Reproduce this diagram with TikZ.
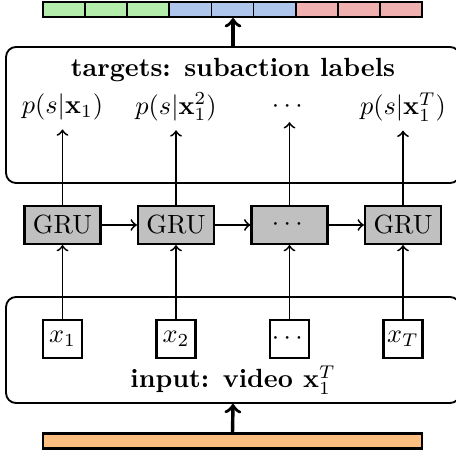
\documentclass[tikz,border=0pt]{standalone}
\usepackage{amsmath}
\definecolor{cgreen}{RGB}{180,236,172}
\definecolor{cblue}{RGB}{174,198,236}
\definecolor{cred}{RGB}{240,176,176}
\definecolor{corange}{RGB}{255,191,128}
\definecolor{cgray}{RGB}{192,192,192}
\begin{document}
\begin{tikzpicture}[x=0.38pt,y=-0.38pt,
  bigbox/.style={draw,line width=0.7pt,rounded corners=3.8pt,minimum width=172.5pt,inner sep=0pt},
  grubox/.style={draw,line width=0.8pt,fill=cgray,minimum width=28.9pt,minimum height=14.4pt,inner sep=0pt},
  xbox/.style={draw,line width=0.8pt,fill=white,minimum width=14.8pt,minimum height=14.4pt,inner sep=0pt},
  conn/.style={line width=0.7pt,->},
  thickarrow/.style={line width=1.3pt,->},
  barnode/.style={draw,line width=0.8pt,minimum width=144pt,minimum height=5.7pt,inner sep=0pt}
]
\useasboundingbox (0,0) rectangle (456,456);
% top bar
\foreach \i/\c in {0/cgreen,1/cgreen,2/cgreen,3/cblue,4/cblue,5/cblue,6/cred,7/cred,8/cred}{
  \draw[line width=0.7pt,fill=\c] ({43+\i*42.11},2) rectangle ({43+(\i+1)*42.11},17);
}
\node[barnode] (topbar) at (232.5,9.5) {};
% bottom bar
\node[barnode,fill=corange] (botbar) at (232.5,441) {};
% big boxes
\node[bigbox,minimum height=51.7pt] (tbox) at (233,115) {};
\node[bigbox,minimum height=40.3pt] (ibox) at (233,350) {};
\node[font=\bfseries] (ttitle) at (233,70) {targets: subaction labels};
\node (ititle) at (233,380) {\textbf{input: video $\mathbf{x}_1^T$}};
% labels
\node (p1) at (62.5,107) {$p(s|\mathbf{x}_1)$};
\node (p2) at (176,107) {$p(s|\mathbf{x}_1^2)$};
\node (p3) at (289.5,107) {$\cdots$};
\node (p4) at (403,107) {$p(s|\mathbf{x}_1^T)$};
% GRUs
\node[grubox] (g1) at (62.5,225) {GRU};
\node[grubox] (g2) at (176,225) {GRU};
\node[grubox] (g3) at (289.5,225) {$\cdots$};
\node[grubox] (g4) at (403,225) {GRU};
% inputs
\node[xbox] (x1) at (62.5,339) {$x_1$};
\node[xbox] (x2) at (176,339) {$x_2$};
\node[xbox] (x3) at (289.5,339) {$\cdots$};
\node[xbox] (x4) at (403,339) {$x_T$};
% connectors
\foreach \i in {1,2,3,4}{
  \draw[conn] (x\i.north) -- (g\i.south);
  \draw[conn] (g\i.north) -- (g\i.north |- p\i.south);
}
\draw[conn] (g1) -- (g2);
\draw[conn] (g2) -- (g3);
\draw[conn] (g3) -- (g4);
\draw[thickarrow] (tbox.north) -- (tbox.north |- topbar.south);
\draw[thickarrow] (botbar.north) -- (ibox.south);
\end{tikzpicture}
\end{document}
